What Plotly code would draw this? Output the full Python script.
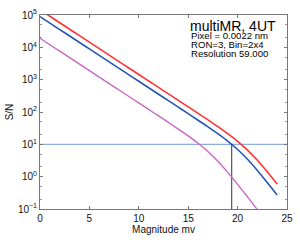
import plotly.graph_objects as go

mag = list(range(0, 25))
sn_red = [144544, 91201, 57544, 36308, 22909, 14454, 9120, 5754, 3631, 2291, 1445,
          912, 575, 363, 229, 144.2, 90.8, 56.9, 35.3, 21.4, 12.4, 6.64, 3.20, 1.41, 0.589]
sn_blue = [89125, 56234, 35481, 22387, 14125, 8913, 5623, 3548, 2239, 1413, 891,
           562, 355, 224, 141, 88.9, 55.7, 34.8, 21.3, 12.6, 6.92, 3.45, 1.56, 0.66, 0.27]
mag_mag = list(range(0, 23))
sn_magenta = [19055, 12023, 7586, 4786, 3020, 1905, 1202, 759, 479, 302, 190.5,
              120.1, 75.6, 47.5, 29.6, 18.2, 10.8, 5.96, 3.00, 1.36, 0.58, 0.238, 0.0957]
target_sn = 10
limit_mag = 19.4
x_range = [0, 25]
y_min = 0.1
info_title = "multiMR, 4UT"
info_lines = ["Pixel = 0.0022 nm", "RON=3, Bin=2x4", "Resolution 59.000"]

fig = go.Figure()
fig.add_trace(go.Scatter(x=x_range, y=[target_sn, target_sn], mode="lines",
                         line=dict(color="#8eaedc", width=1.3)))
fig.add_trace(go.Scatter(x=[limit_mag, limit_mag], y=[y_min, target_sn], mode="lines",
                         line=dict(color="#555555", width=1.2)))
fig.add_trace(go.Scatter(x=mag_mag, y=sn_magenta, mode="lines", line_shape="spline",
                         line=dict(color="#cc66c4", width=1.4)))
fig.add_trace(go.Scatter(x=mag, y=sn_blue, mode="lines", line_shape="spline",
                         line=dict(color="#2356b5", width=1.6)))
fig.add_trace(go.Scatter(x=mag, y=sn_red, mode="lines", line_shape="spline",
                         line=dict(color="#ff3333", width=1.6)))

axis_common = dict(showline=True, mirror="ticks", linecolor="#777777", linewidth=1,
                   ticks="inside", ticklen=3, tickcolor="#777777", showgrid=False,
                   zeroline=False, automargin=False, tickfont=dict(size=10, color="#111111"))
fig.update_xaxes(range=x_range, tickvals=[0, 5, 10, 15, 20, 25], **axis_common,
                 title=dict(text="Magnitude mv", font=dict(size=10, color="#111111"), standoff=0))
fig.update_yaxes(type="log", range=[-1, 5], tickvals=[0.1, 1, 10, 100, 1000, 10000, 100000],
                 ticktext=["10<sup>−1</sup>", "10<sup>0</sup>", "10<sup>1</sup>", "10<sup>2</sup>",
                           "10<sup>3</sup>", "10<sup>4</sup>", "10<sup>5</sup>"],
                 minor=dict(ticks="inside", ticklen=2, tickcolor="#999999", showgrid=False),
                 **axis_common,
                 title=dict(text="S/N", font=dict(size=10, color="#111111"), standoff=2))

fig.add_annotation(xref="paper", yref="paper", x=0.600, y=0.945, xanchor="left", yanchor="middle",
                   text=info_title, showarrow=False, font=dict(size=14, color="#000000"))
for i, (line_text, ypos) in enumerate(zip(info_lines, [0.892, 0.847, 0.802])):
    fig.add_annotation(xref="paper", yref="paper", x=0.602, y=ypos, xanchor="left",
                       yanchor="middle", text=line_text, showarrow=False,
                       font=dict(size=9.6, color="#000000"))

fig.update_layout(width=300, height=240, margin=dict(l=40, r=13, t=15, b=31),
                  showlegend=False, plot_bgcolor="white", paper_bgcolor="white",
                  font=dict(family="Liberation Sans, Arial, sans-serif"))
fig.write_html("out.html", config={"displayModeBar": False},
               post_script="document.body.style.margin='0';document.body.style.overflow='hidden';")
